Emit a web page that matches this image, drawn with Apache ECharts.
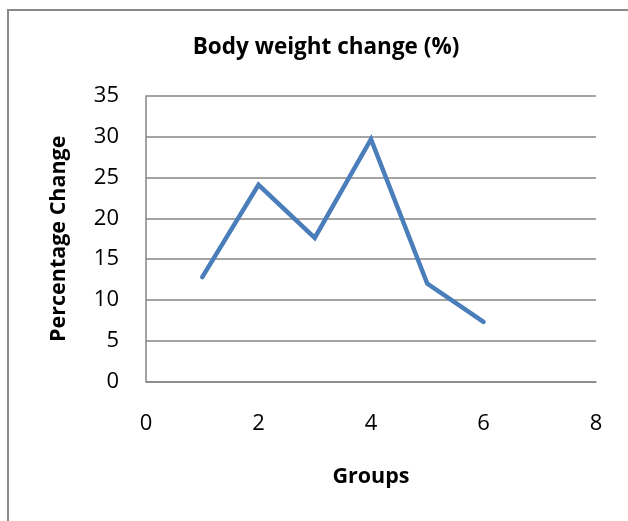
<!DOCTYPE html>
<html>
<head>
<meta charset="utf-8">
<script src="https://cdn.jsdelivr.net/npm/echarts@6/dist/echarts.min.js"></script>
<style>
html,body{margin:0;padding:0;background:#fff;}
#chart{width:628px;height:521px;}
</style>
</head>
<body>
<div id="chart"></div>
<script>
const groups = [1, 2, 3, 4, 5, 6];
const changes = [12.8, 24.1, 17.6, 29.7, 12.0, 7.3];
const xTicks = [0, 2, 4, 6, 8];
const yTicks = [0, 5, 10, 15, 20, 25, 30, 35];

const chart = echarts.init(document.getElementById('chart'), null, {renderer: 'canvas'});
const FONT = '"Open Sans", sans-serif';
chart.setOption({
  animation: false,
  backgroundColor: '#fff',
  graphic: [{
    type: 'rect', shape: {x: 8, y: 10, width: 700, height: 600},
    style: {fill: 'none', stroke: '#8a8a8a', lineWidth: 2}, silent: true
  }],
  title: {
    text: 'Body weight change (%)',
    left: 321, top: 31, textAlign: 'center',
    textStyle: {fontFamily: FONT, fontWeight: 'bold', fontSize: 22.5, color: '#000'}
  },
  grid: {left: 146, right: 32, top: 96, bottom: 139.5},
  xAxis: {
    type: 'value', min: xTicks[0], max: xTicks[xTicks.length - 1], interval: 2,
    name: 'Groups', nameLocation: 'middle', nameGap: 84,
    nameTextStyle: {fontFamily: FONT, fontWeight: 'bold', fontSize: 21.5, color: '#000'},
    axisLine: {show: true, lineStyle: {color: '#868686', width: 1.5}},
    axisTick: {show: false},
    splitLine: {show: false},
    axisLabel: {fontFamily: FONT, fontSize: 22, color: '#000', margin: 31}
  },
  yAxis: {
    type: 'value', min: yTicks[0], max: yTicks[yTicks.length - 1], interval: 5,
    name: 'Percentage Change', nameLocation: 'middle', nameGap: 76,
    nameTextStyle: {fontFamily: FONT, fontWeight: 'bold', fontSize: 21.5, color: '#000'},
    axisLine: {show: true, lineStyle: {color: '#868686', width: 1.5}},
    axisTick: {show: false},
    splitLine: {show: true, lineStyle: {color: '#868686', width: 1.5}},
    axisLabel: {fontFamily: FONT, fontSize: 22, color: '#000', margin: 27}
  },
  series: [{
    type: 'line',
    data: groups.map((g, i) => [g, changes[i]]),
    showSymbol: false,
    lineStyle: {color: '#4a7ebb', width: 4.5, cap: 'round', join: 'miter'},
    itemStyle: {color: '#4a7ebb'}
  }]
});
</script>
</body>
</html>
